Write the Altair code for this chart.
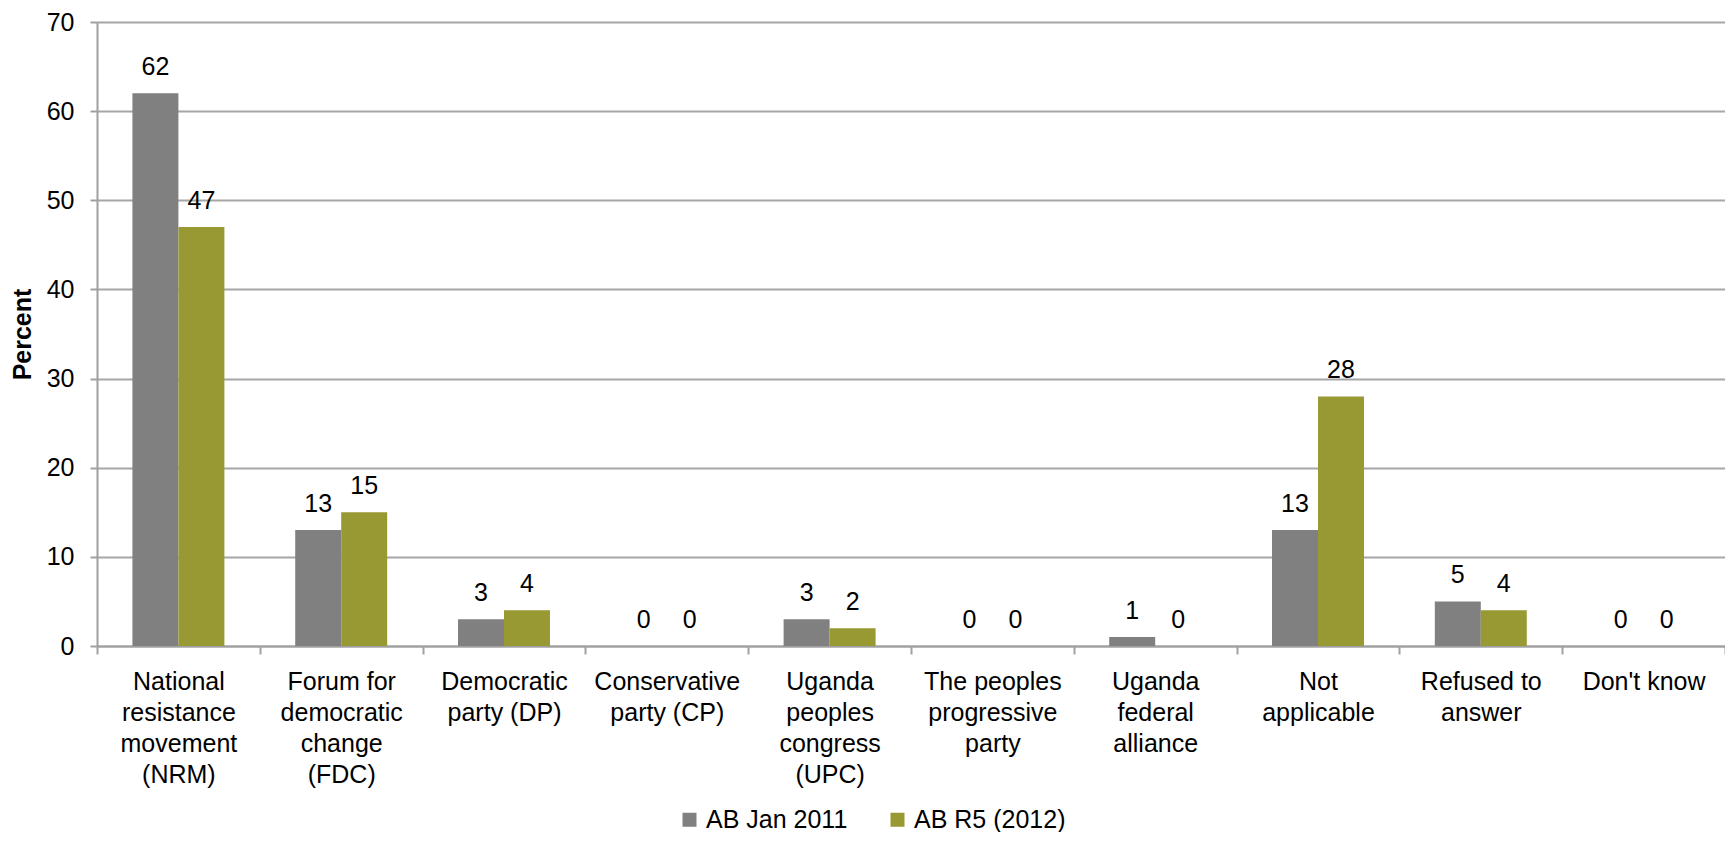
import altair as alt
import pandas as pd

categories = [
    "National|resistance|movement|(NRM)",
    "Forum for|democratic|change|(FDC)",
    "Democratic|party (DP)",
    "Conservative|party (CP)",
    "Uganda|peoples|congress|(UPC)",
    "The peoples|progressive|party",
    "Uganda|federal|alliance",
    "Not|applicable",
    "Refused to|answer",
    "Don't know",
]
series_names = ["AB Jan 2011", "AB R5 (2012)"]
jan2011 = [62, 13, 3, 0, 3, 0, 1, 13, 5, 0]
r5_2012 = [47, 15, 4, 0, 2, 0, 0, 28, 4, 0]
colors = ["#808080", "#999933"]

rows = []
for c, a, b in zip(categories, jan2011, r5_2012):
    rows.append({"cat": c, "series": series_names[0], "value": a})
    rows.append({"cat": c, "series": series_names[1], "value": b})
df = pd.DataFrame(rows)

FONT = "Liberation Sans"
W, H = 1628, 624

x = alt.X(
    "cat:N",
    sort=categories,
    scale=alt.Scale(paddingInner=0, paddingOuter=0),
    axis=alt.Axis(
        title=None,
        labelExpr="split(datum.label, '|')",
        labelAngle=0,
        labelFontSize=25,
        labelFont=FONT,
        labelColor="#000000",
        labelLineHeight=31,
        labelPadding=15,
        labelBaseline="top",
        tickBand="extent",
        tickSize=8,
        tickColor="#a0a0a0",
        domainColor="#a0a0a0",
        domainWidth=2,
        tickWidth=2,
        grid=False,
    ),
)
xoff = alt.XOffset(
    "series:N",
    sort=series_names,
    scale=alt.Scale(paddingOuter=0.77, paddingInner=0),
)
y = alt.Y(
    "value:Q",
    scale=alt.Scale(domain=[0, 70], nice=False),
    axis=alt.Axis(
        title="Percent",
        titleFont=FONT,
        titleFontSize=25,
        titleFontWeight="bold",
        titleColor="#000000",
        titleAngle=270,
        titleBaseline="middle",
        titleX=-75,
        titleY=H / 2,
        values=[0, 10, 20, 30, 40, 50, 60, 70],
        labelFont=FONT,
        labelFontSize=25,
        labelColor="#000000",
        labelPadding=16,
        tickSize=7,
        tickColor="#a0a0a0",
        tickWidth=2,
        domainColor="#a0a0a0",
        domainWidth=2,
        grid=True,
        gridColor="#a6a6a6",
        gridWidth=2,
    ),
)
color = alt.Color(
    "series:N",
    sort=series_names,
    scale=alt.Scale(domain=series_names, range=colors),
    legend=alt.Legend(
        title=None,
        orient="none",
        direction="horizontal",
        legendX=580,
        legendY=785,
        symbolType="square",
        symbolSize=196,
        symbolStrokeWidth=0,
        labelFont=FONT,
        labelFontSize=25,
        labelColor="#000000",
        labelOffset=4,
        columnPadding=37,
    ),
)

bars = alt.Chart(df).mark_bar(stroke=None).encode(x=x, xOffset=xoff, y=y, color=color)
labels = alt.Chart(df).mark_text(
    font=FONT, fontSize=25, color="#000000", baseline="alphabetic", dy=-18
).encode(x=x, xOffset=xoff, y=y, text=alt.Text("value:Q", format="d"))

chart = (
    alt.layer(bars, labels)
    .properties(
        width=W,
        height=H,
        autosize=alt.AutoSizeParams(type="none"),
        padding={"left": 89, "top": 14, "right": 0, "bottom": 186},
    )
    .configure_view(stroke=None)
    .configure(background="#ffffff")
)

chart.save("out.html", embed_options={"renderer": "svg", "actions": False})
